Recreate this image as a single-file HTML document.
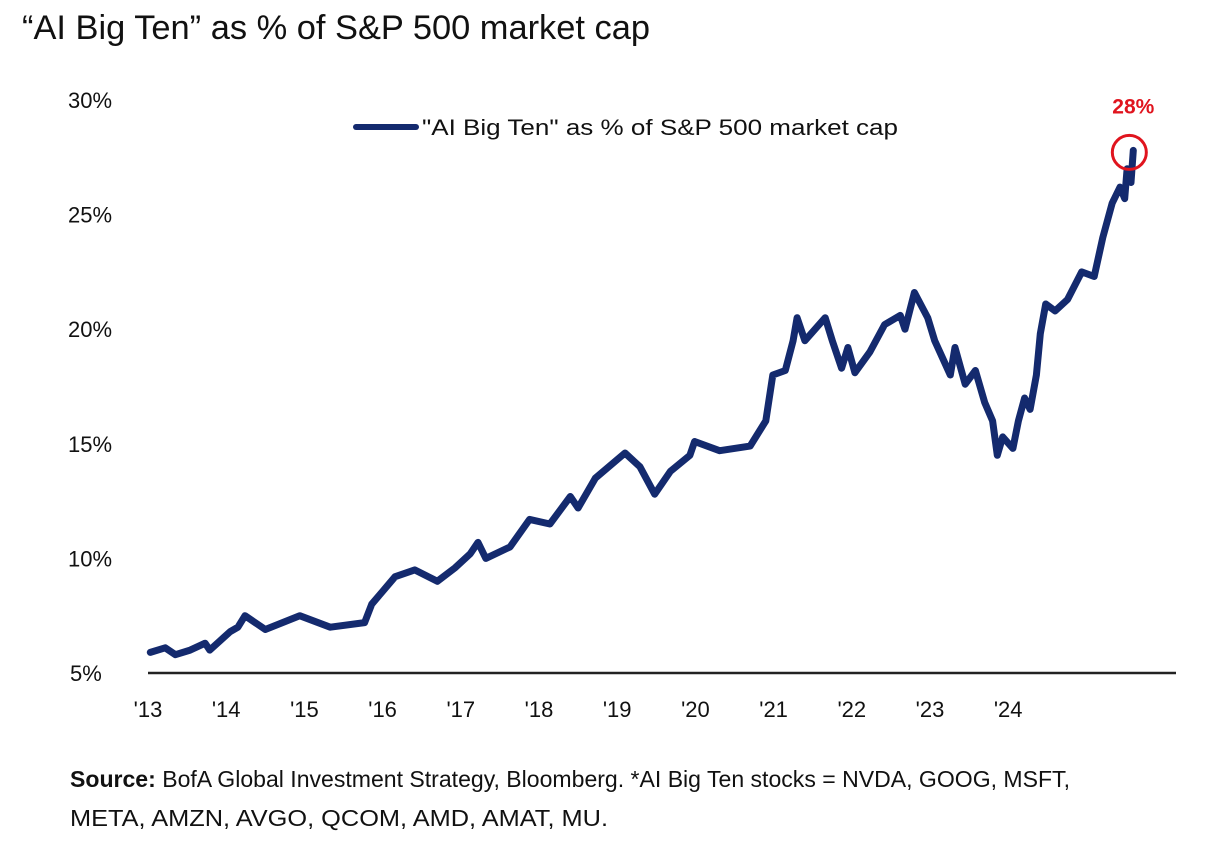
<!DOCTYPE html>
<html><head><meta charset="utf-8"><style>
body{margin:0;background:#fff;width:1222px;height:841px;overflow:hidden;font-family:"Liberation Sans",sans-serif}
svg text{font-family:"Liberation Sans",sans-serif}
</style></head><body>
<svg id="chart" width="1222" height="841" viewBox="0 0 1222 841" xmlns="http://www.w3.org/2000/svg">
<text x="22" y="39" font-size="34" fill="#111" textLength="628" lengthAdjust="spacingAndGlyphs">“AI Big Ten” as % of S&amp;P 500 market cap</text>
<g id="yaxis"></g>
<g id="xaxis"></g>
<line x1="148" y1="673" x2="1176" y2="673" stroke="#222" stroke-width="2.5"/>
<g>
<line x1="356" y1="127" x2="416" y2="127" stroke="#142a6e" stroke-width="6" stroke-linecap="round"/>
<text x="422" y="135" font-size="22" fill="#111" textLength="476" lengthAdjust="spacingAndGlyphs">"AI Big Ten" as % of S&amp;P 500 market cap</text>
</g>
<path id="series" fill="none" stroke="#142a6e" stroke-width="7" stroke-linejoin="round" stroke-linecap="round"/>
<circle id="hl" r="17" fill="none" stroke="#e0141e" stroke-width="3"/>
<text id="hlt" font-size="21" font-weight="bold" fill="#e0141e" text-anchor="middle">28%</text>
<text x="70" y="787" font-size="23" fill="#111" textLength="1000" lengthAdjust="spacingAndGlyphs"><tspan font-weight="bold">Source:</tspan> BofA Global Investment Strategy, Bloomberg. *AI Big Ten stocks = NVDA, GOOG, MSFT,</text>
<text x="70" y="826" font-size="23" fill="#111" textLength="538" lengthAdjust="spacingAndGlyphs">META, AMZN, AVGO, QCOM, AMD, AMAT, MU.</text>
</svg>
<script>
const yTicks=[5,10,15,20,25,30];
const xLabels=["'13","'14","'15","'16","'17","'18","'19","'20","'21","'22","'23","'24"];
const times=[0.03,0.22,0.35,0.54,0.73,0.79,0.92,1.05,1.15,1.24,1.5,1.94,2.33,2.77,2.86,3.16,3.41,3.7,3.93,4.12,4.22,4.32,4.63,4.88,5.14,5.4,5.5,5.72,6.1,6.29,6.48,6.68,6.93,6.99,7.31,7.7,7.9,7.99,8.15,8.25,8.3,8.4,8.66,8.75,8.87,8.95,9.04,9.23,9.42,9.62,9.68,9.8,9.97,10.06,10.26,10.32,10.45,10.58,10.7,10.8,10.86,10.93,11.06,11.13,11.21,11.28,11.36,11.41,11.48,11.6,11.76,11.94,12.1,12.21,12.33,12.43,12.49,12.52,12.57,12.6];
const values=[5.9,6.1,5.8,6.0,6.3,6.0,6.4,6.8,7.0,7.5,6.9,7.5,7.0,7.2,8.0,9.2,9.5,9.0,9.6,10.2,10.7,10.0,10.5,11.7,11.5,12.7,12.2,13.5,14.6,14.0,12.8,13.8,14.5,15.1,14.7,14.9,16.0,18.0,18.2,19.5,20.5,19.5,20.5,19.5,18.3,19.2,18.1,19.0,20.2,20.6,20.0,21.6,20.5,19.5,18.0,19.2,17.6,18.2,16.8,16.0,14.5,15.3,14.8,16.0,17.0,16.5,18.0,19.8,21.1,20.8,21.3,22.5,22.3,24.0,25.5,26.2,25.7,27.0,26.4,27.8];
const X=t=>148+t*78.2, Y=v=>673-(v-5)*22.92;
const NS="http://www.w3.org/2000/svg";
const ya=document.getElementById('yaxis'), xa=document.getElementById('xaxis');
yTicks.forEach(v=>{const t=document.createElementNS(NS,'text');


t.setAttribute('x',v<10?70:68);t.setAttribute('y',Y(v)+8);t.setAttribute('font-size','22');t.setAttribute('fill','#111');t.textContent=v+'%';ya.appendChild(t);});
xLabels.forEach((l,i)=>{const t=document.createElementNS(NS,'text');


t.setAttribute('x',X(i));t.setAttribute('y',717);t.setAttribute('font-size','22');t.setAttribute('fill','#111');t.setAttribute('text-anchor','middle');t.textContent=l;xa.appendChild(t);});
document.getElementById('series').setAttribute('d',times.map((t,i)=>(i?'L':'M')+X(t).toFixed(1)+','+Y(values[i]).toFixed(1)).join(''));
const lt=times[times.length-1], lv=values[values.length-1];
const c=document.getElementById('hl');c.setAttribute('cx',X(lt)-4);c.setAttribute('cy',Y(lv)+2);
const h=document.getElementById('hlt');h.setAttribute('x',X(lt));h.setAttribute('y',Y(lv)-37);
</script>
</body></html>
